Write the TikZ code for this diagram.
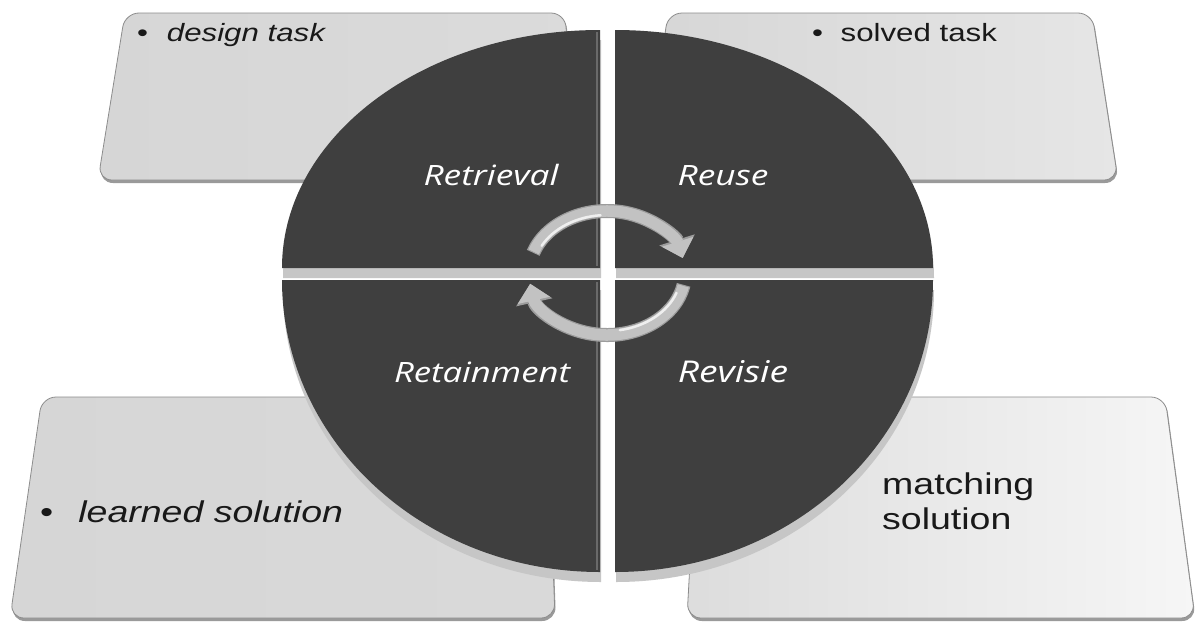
\documentclass[tikz,border=0pt]{standalone}
\usepackage{fontspec}
\setmainfont{Liberation Sans}
\newfontfamily\quadfont{Open Sans}
\usetikzlibrary{arrows.meta}
\definecolor{quad}{HTML}{3F3F3F}
\definecolor{quadside}{HTML}{6A6A6A}
\definecolor{qshadow}{HTML}{C6C6C6}
\definecolor{cardA}{HTML}{D6D6D6}
\definecolor{cardB}{HTML}{E6E6E6}
\definecolor{cardC}{HTML}{F6F6F6}
\definecolor{cardline}{HTML}{8C8C8C}
\definecolor{cardshadow}{HTML}{9A9A9A}
\definecolor{arrowbody}{HTML}{C2C2C2}
\definecolor{arrowedge}{HTML}{9C9C9C}
\definecolor{arrowlight}{HTML}{EFEFEF}
\tikzset{
  cardedge/.style={draw=cardline, line width=0.8pt, rounded corners=14pt},
  cardshade/.style={fill=cardshadow, rounded corners=14pt},
  quadfill/.style={fill=quad},
  quadshade/.style={fill=qshadow},
  quadtext/.style={text=white, inner sep=0pt, anchor=base,
    font=\quadfont\itshape\fontsize{28}{32}\selectfont},
  cardtext/.style={text=black!90, inner sep=0pt, anchor=base west},
  cyclearrowedge/.style={draw=arrowedge, line width=14pt,
    -{Triangle[width=36pt,length=19pt,fill=arrowedge]}},
  cyclearrow/.style={draw=arrowbody, line width=11.5pt,
    -{Triangle[width=32pt,length=17pt,fill=arrowbody]}},
  arrowshine/.style={draw=arrowlight, line width=2.5pt, line cap=round}
}
\begin{document}
\begin{tikzpicture}[x=1pt,y=1pt]
\useasboundingbox (0,0) rectangle (1200,-622);
\fill[white] (0,0) rectangle (1200,-622);

% ---------- cards: shadows ----------
\fill[cardshade] (126,-15) -- (566,-15) -- (578,-183) -- (99,-183) -- cycle;
\fill[cardshade] (669,-15) -- (1093,-15) -- (1119,-183) -- (645,-183) -- cycle;
\fill[cardshade] (43,-399) -- (548,-399) -- (556,-621) -- (11,-621) -- cycle;
\fill[cardshade] (700,-399) -- (1166,-399) -- (1196,-621) -- (688,-621) -- cycle;

% ---------- cards ----------
\shade[left color=cardA, right color=cardA!70!cardB, rounded corners=14pt]
  (125,-13) -- (565,-13) -- (577,-180) -- (98,-180) -- cycle;
\draw[cardedge] (125,-13) -- (565,-13) -- (577,-180) -- (98,-180) -- cycle;

\shade[left color=cardA, right color=cardB, rounded corners=14pt]
  (668,-13) -- (1092,-13) -- (1118,-180) -- (644,-180) -- cycle;
\draw[cardedge] (668,-13) -- (1092,-13) -- (1118,-180) -- (644,-180) -- cycle;

\shade[left color=cardA, right color=cardA!80!cardB, rounded corners=14pt]
  (42,-397) -- (547,-397) -- (555,-618) -- (10,-618) -- cycle;
\draw[cardedge] (42,-397) -- (547,-397) -- (555,-618) -- (10,-618) -- cycle;

\shade[left color=cardA!60!cardB, right color=cardC, rounded corners=14pt]
  (699,-397) -- (1165,-397) -- (1195,-618) -- (687,-618) -- cycle;
\draw[cardedge] (699,-397) -- (1165,-397) -- (1195,-618) -- (687,-618) -- cycle;

% ---------- quadrant shadows ----------
\fill[quadshade] (601,-278) -- (283,-278) arc[start angle=180,end angle=90,x radius=318,y radius=238] -- cycle;
\fill[quadshade] (616,-278) -- (616,-40) arc[start angle=90,end angle=0,x radius=318,y radius=238] -- cycle;
\fill[quadshade] (601,-290) -- (283,-290) arc[start angle=180,end angle=270,x radius=318,y radius=292] -- cycle;
\fill[quadshade] (616,-290) -- (934,-290) arc[start angle=0,end angle=-90,x radius=318,y radius=292] -- cycle;

% ---------- quadrants ----------
\fill[quadfill] (600,-268) -- (282,-268) arc[start angle=180,end angle=90,x radius=318,y radius=238] -- cycle;
\fill[quadfill] (615,-268) -- (615,-30) arc[start angle=90,end angle=0,x radius=318,y radius=238] -- cycle;
\fill[quadfill] (600,-280) -- (282,-280) arc[start angle=180,end angle=270,x radius=318,y radius=292] -- cycle;
\fill[quadfill] (615,-280) -- (933,-280) arc[start angle=0,end angle=-90,x radius=318,y radius=292] -- cycle;
\draw[quadside, line width=1.5pt] (597,-32) -- (597,-266);
\draw[quadside, line width=1.5pt] (597,-282) -- (597,-570);

% ---------- quadrant labels ----------
\node[quadtext] (retrieval) at (491,-185) {\scalebox{1.26}[1]{Retrieval}};
\node[quadtext] (reuse) at (723,-185) {\scalebox{1.26}[1]{Reuse}};
\node[quadtext] (retainment) at (482,-382) {\scalebox{1.24}[1]{Retainment}};
\node[quadtext, font=\quadfont\itshape\fontsize{30}{34}\selectfont] (revisie) at (733,-382) {\scalebox{1.24}[1]{Revisie}};

% ---------- cycle arrows ----------
\coordinate (hub) at (607,-273);
\draw[cyclearrowedge] (hub) ++(161:78 and 62) arc[start angle=161,end angle=14,x radius=78,y radius=62];
\draw[cyclearrow] (hub) ++(160:78 and 62) arc[start angle=160,end angle=14,x radius=78,y radius=62];
\draw[cyclearrowedge] (hub) ++(-11:78 and 62) arc[start angle=-11,end angle=-170,x radius=78,y radius=62];
\draw[cyclearrow] (hub) ++(-12:78 and 62) arc[start angle=-12,end angle=-170,x radius=78,y radius=62];
\draw[arrowshine] (hub) ++(152:74 and 58) arc[start angle=152,end angle=95,x radius=74,y radius=58];
\draw[arrowshine] (hub) ++(-20:74 and 58) arc[start angle=-20,end angle=-80,x radius=74,y radius=58];

% ---------- card texts ----------
\node[cardtext, font=\fontsize{25}{28}\selectfont] (design) at (137,-41)
  {\scalebox{1.25}[1]{\textbullet\hspace{15pt}\textit{design task}}};
\node[cardtext, font=\fontsize{25}{28}\selectfont] (solved) at (812,-41)
  {\scalebox{1.25}[1]{\textbullet\hspace{14pt}solved task}};
\node[cardtext, font=\fontsize{30}{34}\selectfont] (learned) at (40,-522)
  {\scalebox{1.25}[1]{\textbullet\hspace{20pt}\textit{learned solution}}};
\node[cardtext, font=\fontsize{30}{35}\selectfont] (matching) at (882,-494)
  {\scalebox{1.25}[1]{\begin{tabular}[t]{@{}l@{}}matching\\solution\end{tabular}}};
\end{tikzpicture}
\end{document}
